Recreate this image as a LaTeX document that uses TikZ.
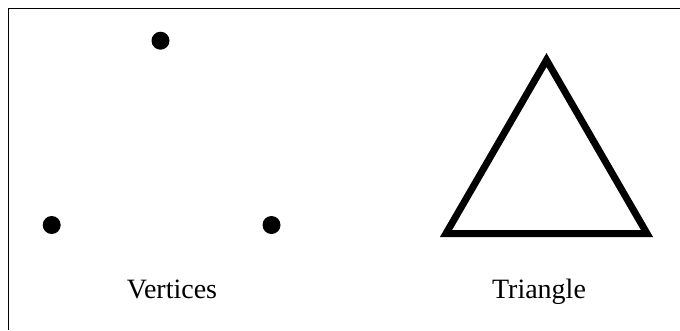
\documentclass[tikz,border=0pt]{standalone}
\usepackage{fontspec}
\setmainfont{Liberation Serif}
\usetikzlibrary{positioning}

\tikzset{
  vertexdot/.style={circle, fill=black, inner sep=0pt, minimum size=18pt},
  caption/.style={anchor=base, inner sep=0pt, font=\fontsize{28}{32}\selectfont},
}

\begin{document}
\begin{tikzpicture}[x=1pt, y=-1pt]
  \useasboundingbox (0,0) rectangle (680,330);
  % frame, only its top and left edges fall inside the page
  \draw[line width=1.5pt] (8.5,330) -- (8.5,8.5) -- (680,8.5);
  % the three vertices
  \node[vertexdot] (top) at (160.5,40.7) {};
  \node[vertexdot] (left) at (51.7,225) {};
  \node[vertexdot] (right) at (271.5,225) {};
  % the triangle
  \coordinate (apex) at (546.5,60);
  \coordinate (bl) at (446,233.5);
  \coordinate (br) at (647,233.5);
  \draw[line width=7pt, miter limit=10] (apex) -- (bl) -- (br) -- cycle;
  % captions
  \node[caption] (vlabel) at (172,298) {Vertices};
  \node[caption] (tlabel) at (539,298) {Triangle};
\end{tikzpicture}
\end{document}
